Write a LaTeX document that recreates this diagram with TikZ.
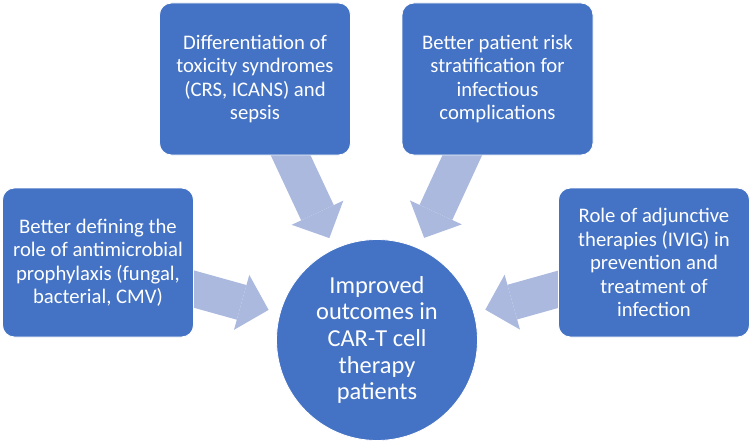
\documentclass[tikz,border=0pt]{standalone}
\usepackage{fontspec}
\setmainfont{Carlito}
\usepackage{tikz}
\usetikzlibrary{arrows.meta,backgrounds}
\definecolor{boxblue}{RGB}{68,114,196}
\definecolor{arrowblue}{RGB}{171,185,223}

\begin{document}
\begin{tikzpicture}[x=1pt,y=-1pt,
  box/.style={rectangle,rounded corners=12pt,fill=boxblue,draw=white,line width=0.8pt,
    text=white,align=center,minimum width=191pt,minimum height=152pt,inner sep=4pt,
    font=\fontsize{20.7}{23.5}\selectfont},
  hubnode/.style={circle,fill=boxblue,draw=white,line width=0.8pt,text=white,
    align=center,minimum size=201pt,inner sep=0pt,outer sep=0pt,
    font=\fontsize{24.4}{26.7}\selectfont},
  bigarrow/.style={draw=arrowblue,line width=36pt,
    -{Triangle[width=57pt,length=28pt,line width=0pt]},
    shorten <=-20pt,shorten >=12pt}]
\useasboundingbox (0,0) rectangle (753,444);
\node[box] (tl) at (255,79) {Differentiation of\\toxicity syndromes\\(CRS, ICANS) and\\sepsis};
\node[box] (tr) at (497.5,79) {Better patient risk\\stratification for\\infectious\\complications};
\node[box,minimum height=149pt] (lb) at (98,262.5) {Better defining the\\role of antimicrobial\\prophylaxis (fungal,\\bacterial, CMV)};
\node[box,minimum height=149pt] (rb) at (654,262.5) {Role of adjunctive\\therapies (IVIG) in\\prevention and\\treatment of\\infection};
\node[hubnode] (hub) at (377,340) {Improved\\outcomes in\\CAR-T cell\\therapy\\patients};
\begin{scope}[on background layer]
\draw[bigarrow] (lb) -- (hub);
\draw[bigarrow] (tl) -- (hub);
\draw[bigarrow] (tr) -- (hub);
\draw[bigarrow] (rb) -- (hub);
\end{scope}
\end{tikzpicture}
\end{document}
